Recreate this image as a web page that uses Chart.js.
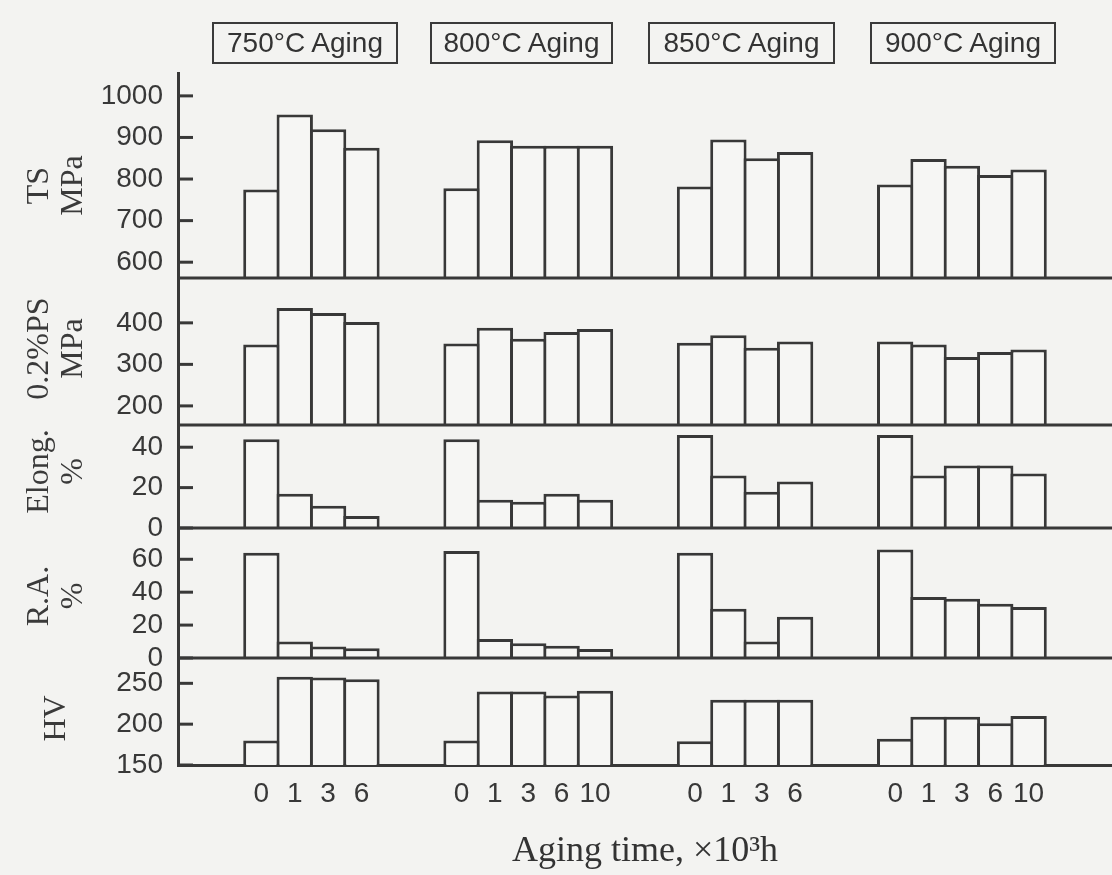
<!DOCTYPE html>
<html>
<head>
<meta charset="utf-8">
<script src="https://cdn.jsdelivr.net/npm/chart.js@4.4.1/dist/chart.umd.min.js"></script>
<style>
html,body{margin:0;padding:0;background:#f3f3f1;}
#wrap{position:relative;width:1112px;height:875px;overflow:hidden;background:#f3f3f1;}
#c{position:absolute;left:0;top:0;}
.tbox{position:absolute;top:22px;height:42px;border:2px solid #3a3a3a;box-sizing:border-box;
  font-family:'Liberation Sans',Roboto,sans-serif;font-size:28px;color:#333;
  display:flex;align-items:center;justify-content:center;white-space:nowrap;}
#xtitle{position:absolute;left:395px;width:500px;top:828px;text-align:center;
  font-family:'Liberation Serif','DejaVu Serif',serif;font-size:36px;color:#333;white-space:nowrap;}
</style>
</head>
<body>
<div id="wrap">
  <canvas id="c" width="1112" height="875"></canvas>
  <div id="boxes"></div>
  <div id="xtitle">Aging time, ×10³h</div>
</div>
<script>
// ---------- data ----------
const temps = ['750°C Aging', '800°C Aging', '850°C Aging', '900°C Aging'];
const times750 = ['0', '1', '3', '6'];
const times800 = ['0', '1', '3', '6', '10'];
const times850 = ['0', '1', '3', '6'];
const times900 = ['0', '1', '3', '6', '10'];

const ts750 = [775, 955, 920, 875];
const ts800 = [778, 893, 880, 880, 880];
const ts850 = [782, 895, 850, 865];
const ts900 = [787, 848, 832, 810, 823];

const ps750 = [348, 436, 424, 402];
const ps800 = [350, 388, 362, 378, 385];
const ps850 = [352, 370, 340, 355];
const ps900 = [355, 348, 318, 330, 336];

const el750 = [44, 17, 11, 6];
const el800 = [44, 14, 13, 17, 14];
const el850 = [46, 26, 18, 23];
const el900 = [46, 26, 31, 31, 27];

const ra750 = [64, 10, 7, 6];
const ra800 = [65, 11.5, 9, 7.5, 5.5];
const ra850 = [64, 30, 10, 25];
const ra900 = [66, 37, 36, 33, 31];

const hv750 = [180, 258, 257, 255];
const hv800 = [180, 240, 240, 235, 241];
const hv850 = [179, 230, 230, 230];
const hv900 = [182, 209, 209, 201, 210];

const tsTicks = [600, 700, 800, 900, 1000];
const psTicks = [200, 300, 400];
const elTicks = [0, 20, 40];
const raTicks = [0, 20, 40, 60];
const hvTicks = [150, 200, 250];

// ---------- layout helpers ----------
const ink = '#383838';
const GAP = 2;
function slots(groups, blank) {
  const out = [];
  groups.forEach(g => {
    for (let i = 0; i < GAP; i++) out.push(blank);
    g.forEach(v => out.push(v));
  });
  for (let i = 0; i < GAP; i++) out.push(blank);
  return out;
}
const labels = slots([times750, times800, times850, times900], '');

const panels = [
  {id: 'yTS', data: slots([ts750, ts800, ts850, ts900], null), min: 562, max: 1055, ticks: tsTicks, h: 205, w: 5, title: ['TS', 'MPa'], dy: 10},
  {id: 'yPS', data: slots([ps750, ps800, ps850, ps900], null), min: 154, max: 508, ticks: psTicks, h: 147, w: 4, title: ['0.2%PS', 'MPa'], dy: -3},
  {id: 'yEL', data: slots([el750, el800, el850, el900], null), min: 0, max: 51, ticks: elTicks, h: 103, w: 3, title: ['Elong.', '%'], dy: -5},
  {id: 'yRA', data: slots([ra750, ra800, ra850, ra900], null), min: 0, max: 79, ticks: raTicks, h: 130, w: 2, title: ['R.A.', '%'], dy: 3},
  {id: 'yHV', data: slots([hv750, hv800, hv850, hv900], null), min: 150, max: 281, ticks: hvTicks, h: 107, w: 1, title: ['HV'], dy: 7}
];

// title boxes
const boxPos = [[212, 186], [430, 183], [648, 187], [870, 186]];
const boxes = document.getElementById('boxes');
temps.forEach((t, i) => {
  const d = document.createElement('div');
  d.className = 'tbox';
  d.style.left = boxPos[i][0] + 'px';
  d.style.width = boxPos[i][1] + 'px';
  d.textContent = t;
  boxes.appendChild(d);
});

const tickFont = {family: "'Liberation Sans', Arial, sans-serif", size: 28};

const scales = {
  x: {
    type: 'category', labels: labels, offset: true,
    grid: {display: false},
    border: {display: true, color: ink, width: 3},
    ticks: {font: tickFont, color: ink, padding: 4, autoSkip: false, maxRotation: 0, minRotation: 0},
    afterFit: s => { s.height = 110; }
  }
};
panels.forEach(p => {
  scales[p.id] = {
    type: 'linear', position: 'left', stack: 'v', stackWeight: p.h, weight: p.w,
    min: p.min, max: p.max,
    grid: {display: false},
    border: {display: true, color: ink, width: 3},
    ticks: {font: tickFont, color: ink, padding: 7, autoSkip: false, callback: v => String(v)},
    afterBuildTicks: s => { s.ticks = p.ticks.map(v => ({value: v})); },
    afterFit: s => { s.width = 178; }
  };
});

const panelDeco = {
  id: 'panelDeco',
  afterDatasetsDraw(chart) {
    const ctx = chart.ctx, a = chart.chartArea;
    ctx.save();
    ctx.strokeStyle = ink;
    ctx.lineWidth = 3;
    panels.forEach(p => {
      const s = chart.scales[p.id];
      if (p.id !== 'yHV') {
        ctx.beginPath(); ctx.moveTo(a.left, s.bottom); ctx.lineTo(a.right, s.bottom); ctx.stroke();
      }
      s.ticks.forEach(t => {
        const y = s.getPixelForValue(t.value);
        ctx.beginPath(); ctx.moveTo(a.left, y); ctx.lineTo(a.left + 15, y); ctx.stroke();
      });
      // rotated axis title
      const yc = (s.top + s.bottom) / 2 + p.dy;
      const xs = p.title.length === 2 ? [40, 74] : [57];
      ctx.fillStyle = '#3a3a3a';
      ctx.font = '32px "Liberation Serif", "DejaVu Serif", serif';
      ctx.textAlign = 'center';
      ctx.textBaseline = 'middle';
      p.title.forEach((line, i) => {
        ctx.save();
        ctx.translate(xs[i], yc);
        ctx.rotate(-Math.PI / 2);
        ctx.fillText(line, 0, 0);
        ctx.restore();
      });
    });
    ctx.restore();
  }
};

new Chart(document.getElementById('c'), {
  type: 'bar',
  data: {
    labels: labels,
    datasets: panels.map(p => ({
      data: p.data, yAxisID: p.id, xAxisID: 'x',
      backgroundColor: '#f6f6f4', borderColor: ink, borderWidth: 3, borderSkipped: 'bottom',
      grouped: false, barPercentage: 1.09, categoryPercentage: 1
    }))
  },
  options: {
    responsive: false, animation: false, devicePixelRatio: 1,
    layout: {padding: {top: 73, left: 0, right: 0, bottom: 0}},
    plugins: {legend: {display: false}, tooltip: {enabled: false}},
    scales: scales
  },
  plugins: [panelDeco]
});
</script>
</body>
</html>
